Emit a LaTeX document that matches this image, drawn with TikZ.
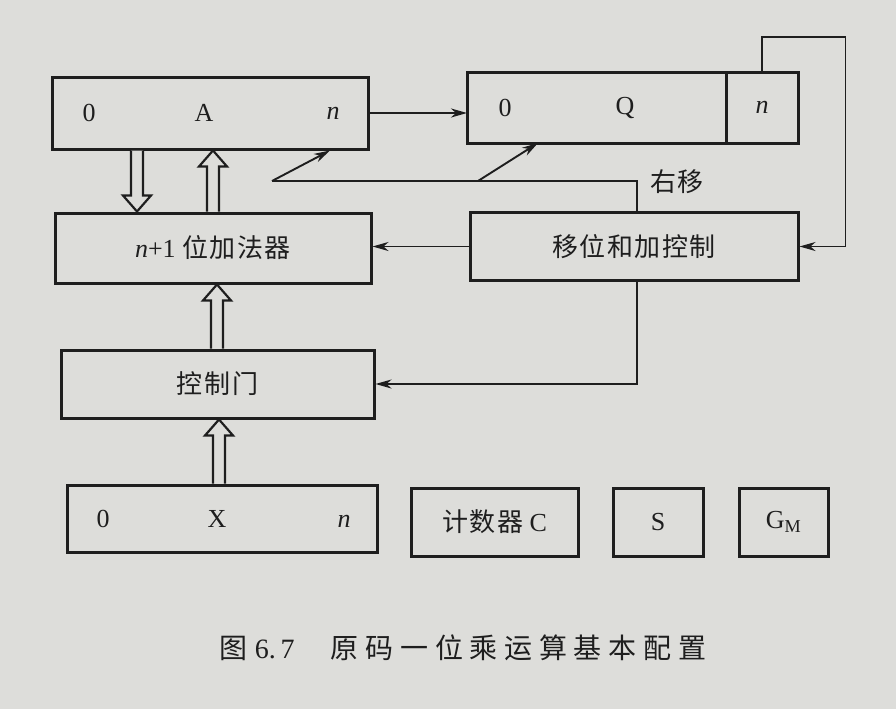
\documentclass[tikz,border=0pt]{standalone}
\usepackage{fontspec}
\setmainfont{Liberation Serif}
\newfontfamily\cjk[LetterSpace=6]{Noto Sans CJK SC}
\newfontfamily\cjkcap[LetterSpace=24]{Noto Sans CJK SC}
\usetikzlibrary{calc, arrows.meta}
\definecolor{paper}{RGB}{221,221,218}
\definecolor{ink}{RGB}{30,30,30}
\tikzset{
	regbox/.style={
			draw=ink,
			line width=3pt,
			inner sep=0pt
		},
	wire/.style={
			draw=ink,
			line width=1.9pt
		},
	tip/.style={
			-{Stealth[length=16pt,width=9pt,inset=5pt]}
		},
	fatline/.style={
			draw=ink,
			line width=2.2pt,
			fill=paper,
			line join=miter
		}
}
% hollow bus arrow, from #1 to the tip at #2
\newcommand{\hollowarrow}[2]{%
  \coordinate (hb) at ($(#2)!16pt!(#1)$);
  \draw[fatline] ($(#1)!6pt!90:(#2)$) -- ($(hb)!6pt!90:(#2)$) -- ($(hb)!14pt!90:(#2)$)
    -- (#2) -- ($(hb)!14pt!-90:(#2)$) -- ($(hb)!6pt!-90:(#2)$) -- ($(#1)!6pt!-90:(#2)$);
}

\begin{document}
\begin{tikzpicture}[x=1pt, y=-1pt, font=\fontsize{26}{30}\selectfont, text=ink]
\fill[paper] (0,0) rectangle (896,709);
\useasboundingbox (0,0) rectangle (896,709);

% registers and units
\node[regbox, minimum width=316pt, minimum height=72pt] (areg) at (210,113) {};
\node[regbox, outer sep=0pt, minimum width=259pt, minimum height=71pt] (qreg) at (596.5,107.5) {};
\node[regbox, outer sep=0pt, minimum width=72pt, minimum height=71pt, anchor=west] (qn) at (qreg.east) {\textit{n}};
\node[regbox, minimum width=316pt, minimum height=70pt] (adder) at (213,248) {\textit{n}+1 {\cjk 位加法器}};
\node[regbox, minimum width=328pt, minimum height=68pt] (ctrl) at (634,246.5) {\cjk 移位和加控制};
\node[regbox, minimum width=313pt, minimum height=68pt] (gate) at (217.5,384) {\cjk 控制门};
\node[regbox, minimum width=310pt, minimum height=67pt] (xreg) at (222,518.5) {};
\node[regbox, minimum width=167pt, minimum height=68pt] (cnt) at (494.5,522) {{\cjk 计数器} C};
\node[regbox, minimum width=90pt, minimum height=68pt] (sreg) at (658,522) {S};
\node[regbox, minimum width=89pt, minimum height=68pt] (gm) at (783.5,522) {G\textsubscript{M}};

% bit labels
\node (a0) at (89,113) {0};
\node (alab) at (204,113) {A};
\node (an) at (333,113) {\textit{n}};
\node (q0) at (505,108) {0};
\node (qlab) at (625,108) {Q};
\node (x0) at (103,519) {0};
\node (xlab) at (217,519) {X};
\node (xn) at (344,521) {\textit{n}};

% control lines
\draw[wire, tip] (areg.east) -- (qreg.west |- areg.east);
\draw[wire, tip] (qn.north) -- ++(0,-35) -| ([xshift=46pt]ctrl.east) -- (ctrl.east);
\draw[wire, tip] (ctrl.west) -- (adder.east |- ctrl.west);
\draw[wire, tip] ([xshift=3pt]ctrl.south) |- (gate.east);

\coordinate (sh) at ([xshift=3pt]ctrl.north);
\coordinate (sl) at (272,181);
\coordinate (sm) at (478,181);
\draw[wire] (sh) |- (sl);
\draw[wire, tip] (sl) -- ([xshift=120pt]areg.south);
\draw[wire, tip] (sm) -- ([xshift=-58.5pt]qreg.south);
\node[font=\fontsize{26}{30}\selectfont\cjk] (rlabel) at (677,182) {右移};

% data buses
\coordinate (d1) at ([xshift=-73pt]areg.south);
\coordinate (d2) at (d1 |- adder.north);
\hollowarrow{d1}{d2}
\coordinate (u1) at (adder.north);
\coordinate (u2) at (u1 |- areg.south);
\hollowarrow{u1}{u2}
\coordinate (g1) at ([xshift=-0.5pt]gate.north);
\coordinate (g2) at (g1 |- adder.south);
\hollowarrow{g1}{g2}
\coordinate (x1) at ([xshift=-3pt]xreg.north);
\coordinate (x2) at (x1 |- gate.south);
\hollowarrow{x1}{x2}

% caption
\node[font=\fontsize{28}{32}\selectfont] (cap) at (463,648) {{\cjk 图} 6.\,7\hspace{1.3em}{\cjkcap 原码一位乘运算基本配置}};
\end{tikzpicture}
\end{document}
